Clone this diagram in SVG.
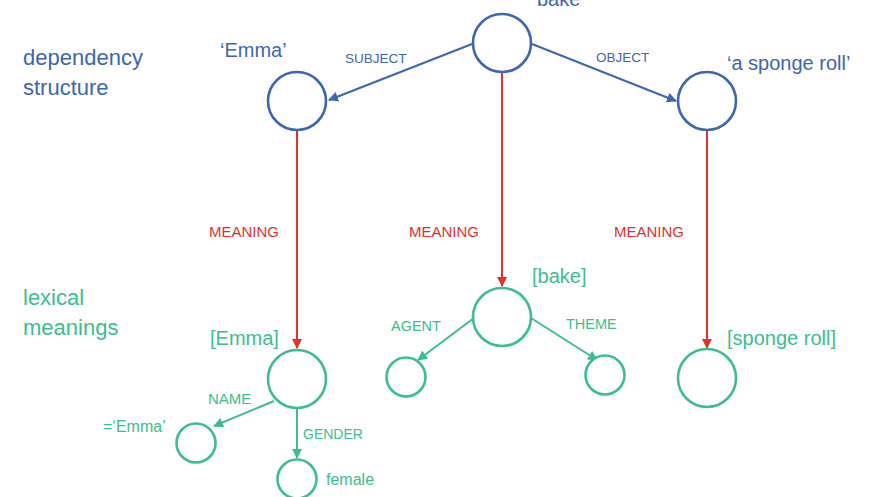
<svg xmlns="http://www.w3.org/2000/svg" width="875" height="497" viewBox="0 0 875 497">
<defs>
<style>
text{font-family:"Liberation Sans","Open Sans",sans-serif}
.b{fill:#3D67B1}
.g{fill:#3DBE8E}
.r{fill:#E8302A}
.big{font-size:20px}
.lft{font-size:22px}
.sm{font-size:14px}
.cb{fill:#fff;stroke:#3D67B1;stroke-width:2.6}
.cg{fill:#fff;stroke:#3DBE8E;stroke-width:2.6}
.lb{stroke:#3D67B1;stroke-width:2;fill:none}
.lg{stroke:#3DBE8E;stroke-width:2;fill:none}
.lr{stroke:#E8302A;stroke-width:2;fill:none}
</style>
<marker id="ab" viewBox="0 0 10 10" refX="9" refY="5" markerWidth="5" markerHeight="5" orient="auto"><path d="M0,0L10,5L0,10z" fill="#3D67B1"/></marker>
<marker id="ag" viewBox="0 0 10 10" refX="9" refY="5" markerWidth="5" markerHeight="5" orient="auto"><path d="M0,0L10,5L0,10z" fill="#3DBE8E"/></marker>
<marker id="ar" viewBox="0 0 10 10" refX="9" refY="5" markerWidth="5" markerHeight="5" orient="auto"><path d="M0,0L10,5L0,10z" fill="#E8302A"/></marker>
</defs>
<rect width="875" height="497" fill="#fff"/>
<text class="b lft" x="23" y="65">dependency</text>
<text class="b lft" x="23" y="95">structure</text>
<text class="g lft" x="23" y="305">lexical</text>
<text class="g lft" x="23" y="335">meanings</text>
<g id="connectors">
<line class="lb" x1="472" y1="44" x2="329" y2="100" marker-end="url(#ab)"/>
<line class="lb" x1="532" y1="44" x2="676" y2="101" marker-end="url(#ab)"/>
<line class="lr" x1="297" y1="131" x2="297" y2="348" marker-end="url(#ar)"/>
<line class="lr" x1="502" y1="73" x2="502" y2="286" marker-end="url(#ar)"/>
<line class="lr" x1="707" y1="131" x2="707" y2="348" marker-end="url(#ar)"/>
<line class="lg" x1="274" y1="401" x2="214" y2="426" marker-end="url(#ag)"/>
<line class="lg" x1="297" y1="409" x2="297" y2="458" marker-end="url(#ag)"/>
<line class="lg" x1="474" y1="318" x2="418" y2="360" marker-end="url(#ag)"/>
<line class="lg" x1="531" y1="318" x2="597" y2="360" marker-end="url(#ag)"/>
<text class="b sm" x="345" y="63" style="font-size:13.5px">SUBJECT</text>
<text class="b sm" x="596" y="62" style="font-size:13.5px">OBJECT</text>
<text class="r sm" x="209" y="237" style="font-size:15px">MEANING</text>
<text class="r sm" x="409" y="237" style="font-size:15px">MEANING</text>
<text class="r sm" x="614" y="237" style="font-size:15px">MEANING</text>
<text class="g sm" x="208" y="404" style="font-size:15px">NAME</text>
<text class="g sm" x="303" y="439">GENDER</text>
<text class="g sm" x="391" y="331" style="font-size:14.5px">AGENT</text>
<text class="g sm" x="566" y="329" style="font-size:14.5px">THEME</text>
</g>
<g id="bake"><circle class="cb" cx="502" cy="43" r="29"/><text class="b big" x="537" y="6">bake</text></g>
<g id="emma-dep"><circle class="cb" cx="297" cy="101" r="29"/><text class="b big" x="220" y="57">‘Emma’</text></g>
<g id="sponge-dep"><circle class="cb" cx="707" cy="101" r="29"/><text class="b big" x="727" y="70">‘a sponge roll’</text></g>
<g id="emma-lex"><circle class="cg" cx="297" cy="379" r="29"/><text class="g big" x="210" y="345">[Emma]</text></g>
<g id="name"><circle class="cg" cx="196" cy="443" r="19.5"/><text class="g sm" x="103" y="432" style="font-size:16px">=‘Emma’</text></g>
<g id="female"><circle class="cg" cx="297" cy="479" r="19.5"/><text class="g sm" x="326" y="485" style="font-size:16px">female</text></g>
<g id="bake-lex"><circle class="cg" cx="502" cy="317" r="29"/><text class="g big" x="532" y="283">[bake]</text></g>
<g id="agent"><circle class="cg" cx="406" cy="377" r="19.5"/></g>
<g id="theme"><circle class="cg" cx="605" cy="375" r="19.5"/></g>
<g id="sponge-lex"><circle class="cg" cx="707" cy="378" r="29"/><text class="g big" x="727" y="345">[sponge roll]</text></g>
</svg>
